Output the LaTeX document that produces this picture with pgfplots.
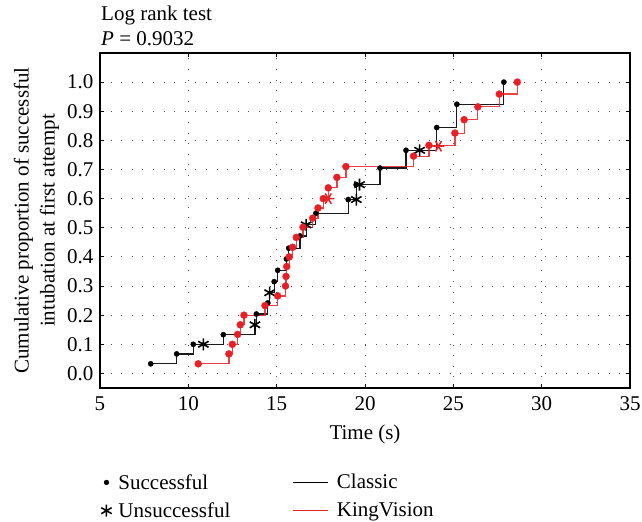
\documentclass[border=0pt]{standalone}
\usepackage{pgfplots}
\pgfplotsset{compat=1.18}
\usepackage{fontspec}
\setmainfont{Liberation Serif}
\definecolor{kvred}{RGB}{232,32,38}
\definecolor{gridc}{RGB}{80,80,80}
\begin{document}
\begin{tikzpicture}[font=\fontsize{21bp}{26bp}\selectfont]
\begin{axis}[
  at={(0,0)}, anchor=south west,
  scale only axis, width=530bp, height=335bp,
  xmin=5, xmax=35, ymin=-0.05, ymax=1.1,
  xtick={5,10,15,20,25,30,35},
  xticklabels={5,10,15,20,25,30,35},
  ytick={0,0.1,0.2,0.3,0.4,0.5,0.6,0.7,0.8,0.9,1.0},
  yticklabels={0.0,0.1,0.2,0.3,0.4,0.5,0.6,0.7,0.8,0.9,1.0},
  xticklabel style={yshift=-5bp},
  yticklabel style={xshift=-3bp},
  tick align=inside, major tick length=4bp,
  grid=major,
  major grid style={gridc, line width=1bp, dash pattern=on 1bp off 9.6bp},
  axis line style={line width=1.1bp},
  every tick/.style={black, line width=0.9bp},
  xlabel={Time (s)},
  ylabel={Cumulative proportion of successful\\intubation at first attempt},
  ylabel style={align=center, at={(axis description cs:-0.12,0.5)}, anchor=center},
  xlabel style={at={(axis description cs:0.5,-0.14)}, anchor=center},
  legend style={at={(axis description cs:-0.005,-0.245)}, anchor=north west,
    draw=none, fill=none, legend columns=2, row sep=8bp,
    /tikz/every even column/.append style={column sep=60bp}},
  legend cell align=left,
]
\addlegendimage{legend image code/.code={\path[draw=none,fill=none] (0bp,0bp) -- (15bp,0bp); \fill[black] (5bp,0bp) circle (2.4bp);}}
\addlegendentry{Successful}
\addlegendimage{legend image code/.code={\path[draw=none,fill=none] (0bp,0bp) -- (42bp,0bp); \draw[black,line width=1.1bp] (0bp,0bp) -- (35bp,0bp);}}
\addlegendentry{Classic}
\addlegendimage{legend image code/.code={\path[draw=none,fill=none] (0bp,0bp) -- (15bp,0bp); \draw[black,line width=1.5bp] (5bp,-6bp) -- (5bp,6bp) (-0.2bp,-3bp) -- (10.2bp,3bp) (-0.2bp,3bp) -- (10.2bp,-3bp);}}
\addlegendentry{Unsuccessful}
\addlegendimage{legend image code/.code={\path[draw=none,fill=none] (0bp,0bp) -- (42bp,0bp); \draw[kvred,line width=1.1bp] (0bp,0bp) -- (35bp,0bp);}}
\addlegendentry{KingVision}

% Classic step line
\addplot[const plot, black!90, line width=1.2bp, forget plot] coordinates {
(7.87,0.033) (9.34,0.067) (10.28,0.100) (11.98,0.133) (13.77,0.167)
(13.85,0.204) (14.50,0.242) (14.60,0.277) (14.86,0.315) (15.06,0.354)
(15.55,0.393) (15.68,0.430) (16.32,0.472) (16.67,0.510) (17.22,0.550)
(19.05,0.597) (19.50,0.648) (20.85,0.705) (22.32,0.766) (24.06,0.844)
(25.20,0.924) (27.86,1.000)};
% KingVision step line
\addplot[const plot, kvred, opacity=0.85, line width=1.2bp, forget plot] coordinates {
(10.56,0.033) (12.30,0.067) (12.49,0.100) (12.79,0.134) (12.94,0.167)
(13.15,0.200) (14.34,0.233) (15.06,0.266) (15.50,0.300) (15.53,0.333)
(15.57,0.367) (15.71,0.400) (15.90,0.433) (16.11,0.467) (16.49,0.502)
(17.04,0.533) (17.34,0.568) (17.64,0.600) (17.92,0.637) (18.41,0.673)
(18.92,0.710) (22.75,0.746) (23.62,0.783) (25.09,0.825) (25.61,0.871)
(26.39,0.915) (27.60,0.959) (28.62,1.000)};
% Classic successful
\addplot[only marks, mark=*, mark size=2.6bp, black, forget plot] coordinates {
(7.87,0.033) (9.34,0.067) (10.28,0.100) (11.98,0.133)
(13.85,0.204) (14.50,0.242) (14.86,0.315) (15.06,0.354)
(15.55,0.393) (15.68,0.430) (16.32,0.472) (17.22,0.550)
(19.05,0.597) (19.50,0.648) (20.85,0.705) (22.32,0.766) (24.06,0.844)
(25.20,0.924) (27.86,1.000)};
% Classic unsuccessful
\addplot[only marks, mark=asterisk, mark size=6bp, black, line width=1.6bp, forget plot] coordinates {
(10.85,0.100) (13.77,0.167) (14.60,0.277) (16.67,0.510) (19.51,0.597) (19.69,0.648) (23.09,0.766)};
% KingVision successful
\addplot[only marks, mark=*, mark size=3.5bp, kvred, forget plot] coordinates {
(10.56,0.033) (12.30,0.067) (12.49,0.100) (12.79,0.134) (12.94,0.167)
(13.15,0.200) (14.34,0.233) (15.06,0.266) (15.50,0.300) (15.53,0.333)
(15.57,0.367) (15.71,0.400) (15.90,0.433) (16.11,0.467) (16.49,0.502)
(17.04,0.533) (17.34,0.568) (17.64,0.600) (17.92,0.637) (18.41,0.673)
(18.92,0.710) (22.75,0.746) (23.62,0.783) (25.09,0.825) (25.61,0.871)
(26.39,0.915) (27.60,0.959) (28.62,1.000)};
% KingVision unsuccessful
\addplot[only marks, mark=asterisk, mark size=6bp, kvred, line width=1.5bp, mark options={rotate=90}, forget plot] coordinates {
(17.92,0.600) (24.16,0.780)};
\end{axis}
\node[anchor=base west, inner sep=0pt] at (1bp,367bp) {Log rank test};
\node[anchor=base west, inner sep=0pt] at (1bp,342bp) {\textit{P} = 0.9032};
\pgfresetboundingbox
\path (-100bp,-134bp) rectangle (542bp,388bp);
\end{tikzpicture}
\end{document}
